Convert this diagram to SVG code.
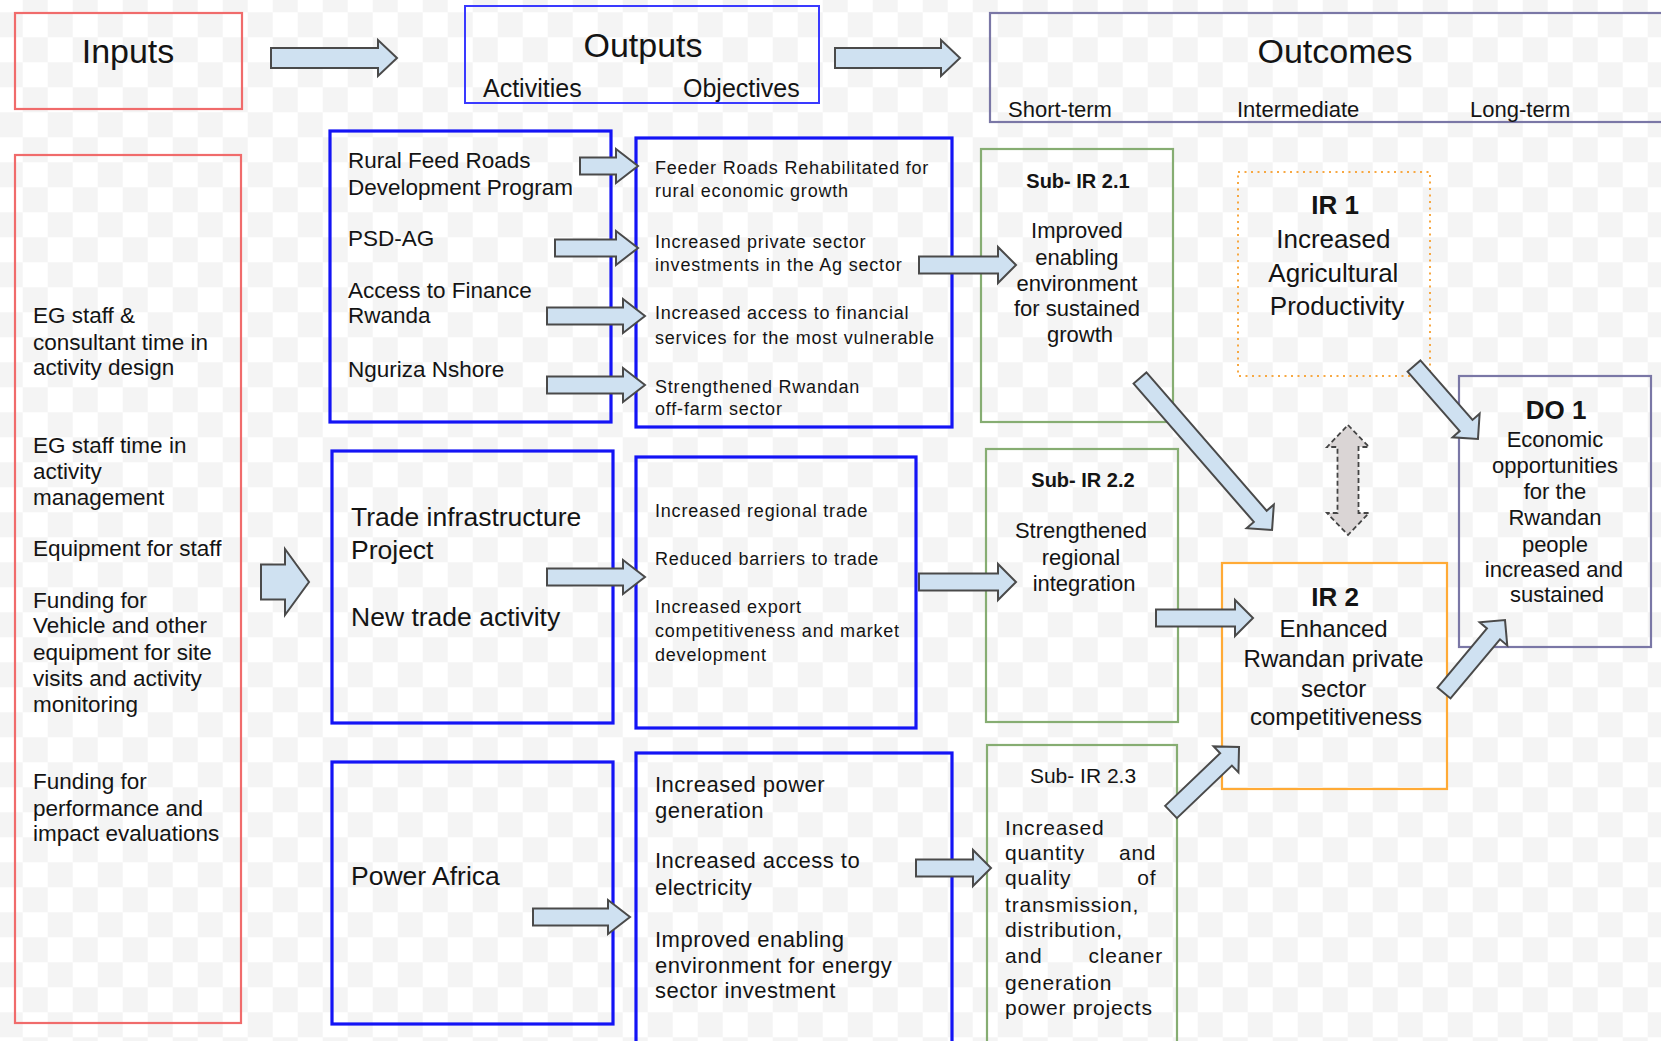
<svg xmlns="http://www.w3.org/2000/svg" width="1661" height="1041" viewBox="0 0 1661 1041">
  <defs>
    <pattern id="checker" patternUnits="userSpaceOnUse" x="-2.3" y="12.3" width="50" height="50">
      <rect width="50" height="50" fill="#ffffff"/>
      <rect x="0" y="0" width="25" height="25" fill="#f4f4f4"/>
      <rect x="25" y="25" width="25" height="25" fill="#f4f4f4"/>
    </pattern>
    <style>
      text { font-family: "Liberation Sans", Arial, sans-serif; fill: #141414; }
      .box { fill: none; }
      .red { stroke: #f06b6b; stroke-width: 2.2; }
      .blue { stroke: #1414f5; stroke-width: 3.2; }
      .blueThin { stroke: #3a3aff; stroke-width: 2; }
      .purple { stroke: #7a77a6; stroke-width: 2.2; }
      .green { stroke: #86ad72; stroke-width: 2.2; }
      .orange { stroke: #ffaa36; stroke-width: 2.2; }
      .dotted { stroke: #f7a842; stroke-width: 2; stroke-dasharray: 2 4.5; }
      .head { font-size: 34px; text-anchor: middle; }
      .sub { font-size: 25px; }
      .col { font-size: 22px; }
      .inp { font-size: 22.5px; }
      .act { font-size: 22.5px; }
      .actBig { font-size: 26.5px; }
      .obj { font-size: 18px; letter-spacing: 0.8px; }
      .obj3 { font-size: 22px; letter-spacing: 0.5px; }
      .ctr { text-anchor: middle; }
      .bold { font-weight: bold; }
      .s22 { font-size: 22px; }
      .s24 { font-size: 24px; }
      .s26 { font-size: 26px; }
      .just { font-size: 21px; letter-spacing: 0.8px; }
      .end { text-anchor: end; }
      .arrow { fill: #cfe1f1; stroke: #4a4a4a; stroke-width: 2; stroke-linejoin: miter; }
      .dual { fill: #dad5d5; stroke: #444444; stroke-width: 1.8; stroke-dasharray: 5 3; }
    </style>
  </defs>

  <!-- transparent-style checkered backdrop -->
  <rect width="1661" height="1041" fill="url(#checker)"/>

  <!-- column headers -->
  <g id="hdr-inputs">
    <rect class="box red" x="15" y="13" width="227" height="96"/>
    <text class="head" x="128" y="63">Inputs</text>
  </g>
  <g id="hdr-outputs">
    <rect class="box blueThin" x="465" y="6" width="354" height="97"/>
    <text class="head" x="643" y="57">Outputs</text>
    <text class="sub" x="483" y="97">Activities</text>
    <text class="sub" x="683" y="97">Objectives</text>
  </g>
  <g id="hdr-outcomes">
    <rect class="box purple" x="990" y="13" width="690" height="109"/>
    <text class="head" x="1335" y="63">Outcomes</text>
    <text class="col" x="1008" y="117">Short-term</text>
    <text class="col" x="1237" y="117">Intermediate</text>
    <text class="col" x="1470" y="117">Long-term</text>
  </g>

  <!-- inputs list -->
  <g id="inputs">
    <rect class="box red" x="15" y="155" width="226" height="868"/>
    <text class="inp" x="33">
      <tspan x="33" y="323">EG staff &amp;</tspan>
      <tspan x="33" y="350">consultant time in</tspan>
      <tspan x="33" y="375">activity design</tspan>
      <tspan x="33" y="453">EG staff time in</tspan>
      <tspan x="33" y="479">activity</tspan>
      <tspan x="33" y="505">management</tspan>
      <tspan x="33" y="556">Equipment for staff</tspan>
      <tspan x="33" y="608">Funding for</tspan>
      <tspan x="33" y="633">Vehicle and other</tspan>
      <tspan x="33" y="660">equipment for site</tspan>
      <tspan x="33" y="686">visits and activity</tspan>
      <tspan x="33" y="712">monitoring</tspan>
      <tspan x="33" y="789">Funding for</tspan>
      <tspan x="33" y="816">performance and</tspan>
      <tspan x="33" y="841">impact evaluations</tspan>
    </text>
  </g>

  <!-- activities -->
  <g id="act-ag">
    <rect class="box blue" x="330" y="131" width="281" height="291"/>
    <text class="act">
      <tspan x="348" y="168">Rural Feed Roads</tspan>
      <tspan x="348" y="195">Development Program</tspan>
      <tspan x="348" y="246">PSD-AG</tspan>
      <tspan x="348" y="298">Access to Finance</tspan>
      <tspan x="348" y="323">Rwanda</tspan>
      <tspan x="348" y="377">Nguriza Nshore</tspan>
    </text>
  </g>
  <g id="act-trade">
    <rect class="box blue" x="332" y="451" width="281" height="272"/>
    <text class="actBig">
      <tspan x="351" y="526">Trade infrastructure</tspan>
      <tspan x="351" y="559">Project</tspan>
      <tspan x="351" y="626">New trade activity</tspan>
    </text>
  </g>
  <g id="act-power">
    <rect class="box blue" x="332" y="762" width="281" height="262"/>
    <text class="actBig" x="351" y="885">Power Africa</text>
  </g>

  <!-- objectives -->
  <g id="obj-ag">
    <rect class="box blue" x="636" y="138" width="316" height="289"/>
    <text class="obj">
      <tspan x="655" y="174">Feeder Roads Rehabilitated for</tspan>
      <tspan x="655" y="197">rural economic growth</tspan>
      <tspan x="655" y="248">Increased private sector</tspan>
      <tspan x="655" y="271">investments in the Ag sector</tspan>
      <tspan x="655" y="319">Increased access to financial</tspan>
      <tspan x="655" y="344">services for the most vulnerable</tspan>
      <tspan x="655" y="393">Strengthened Rwandan</tspan>
      <tspan x="655" y="415">off-farm sector</tspan>
    </text>
  </g>
  <g id="obj-trade">
    <rect class="box blue" x="636" y="457" width="280" height="271"/>
    <text class="obj">
      <tspan x="655" y="517">Increased regional trade</tspan>
      <tspan x="655" y="565">Reduced barriers to trade</tspan>
      <tspan x="655" y="613">Increased export</tspan>
      <tspan x="655" y="637">competitiveness and market</tspan>
      <tspan x="655" y="661">development</tspan>
    </text>
  </g>
  <g id="obj-power">
    <rect class="box blue" x="636" y="753" width="316" height="300"/>
    <text class="obj3">
      <tspan x="655" y="792">Increased power</tspan>
      <tspan x="655" y="818">generation</tspan>
      <tspan x="655" y="868">Increased access to</tspan>
      <tspan x="655" y="895">electricity</tspan>
      <tspan x="655" y="947">Improved enabling</tspan>
      <tspan x="655" y="973">environment for energy</tspan>
      <tspan x="655" y="998">sector investment</tspan>
    </text>
  </g>

  <!-- short-term outcomes -->
  <g id="sub-ir-2-1">
    <rect class="box green" x="981" y="149" width="192" height="273"/>
    <text class="ctr bold" style="font-size:20px" x="1078" y="188">Sub- IR 2.1</text>
    <text class="ctr s22">
      <tspan x="1080" y="238">Improved</tspan>
      <tspan x="1080" y="265">enabling</tspan>
      <tspan x="1080" y="291">environment</tspan>
      <tspan x="1080" y="316">for sustained</tspan>
      <tspan x="1080" y="342">growth</tspan>
    </text>
  </g>
  <g id="sub-ir-2-2">
    <rect class="box green" x="986" y="449" width="192" height="273"/>
    <text class="ctr bold" style="font-size:20px" x="1083" y="487">Sub- IR 2.2</text>
    <text class="ctr s22">
      <tspan x="1084" y="538">Strengthened</tspan>
      <tspan x="1084" y="565">regional</tspan>
      <tspan x="1084" y="591">integration</tspan>
    </text>
  </g>
  <g id="sub-ir-2-3">
    <rect class="box green" x="987" y="745" width="190" height="310"/>
    <text class="ctr" style="font-size:21px" x="1083" y="783">Sub- IR 2.3</text>
    <text class="just">
      <tspan x="1005" y="835">Increased</tspan>
      <tspan x="1005" y="860">quantity</tspan>
      <tspan x="1005" y="885">quality</tspan>
      <tspan x="1005" y="912">transmission,</tspan>
      <tspan x="1005" y="937">distribution,</tspan>
      <tspan x="1005" y="963">and</tspan>
      <tspan x="1005" y="990">generation</tspan>
      <tspan x="1005" y="1015">power projects</tspan>
    </text>
    <text class="just end">
      <tspan x="1163" y="860">and</tspan>
      <tspan x="1163" y="885">of</tspan>
      <tspan x="1163" y="963">cleaner</tspan>
    </text>
  </g>

  <!-- intermediate results -->
  <g id="ir-1">
    <rect class="box dotted" x="1238" y="172" width="192" height="204"/>
    <text class="ctr bold s26" x="1335" y="214">IR 1</text>
    <text class="ctr s26">
      <tspan x="1337" y="248">Increased</tspan>
      <tspan x="1337" y="282">Agricultural</tspan>
      <tspan x="1337" y="315">Productivity</tspan>
    </text>
  </g>
  <g id="ir-2">
    <rect class="box orange" x="1222" y="563" width="225" height="226"/>
    <text class="ctr bold s26" x="1335" y="606">IR 2</text>
    <text class="ctr s24">
      <tspan x="1337" y="637">Enhanced</tspan>
      <tspan x="1337" y="667">Rwandan private</tspan>
      <tspan x="1337" y="697">sector</tspan>
      <tspan x="1336" y="725">competitiveness</tspan>
    </text>
  </g>

  <!-- development objective -->
  <g id="do-1">
    <rect class="box purple" x="1459" y="376" width="192" height="271"/>
    <text class="ctr bold s26" x="1556" y="419">DO 1</text>
    <text class="ctr s22">
      <tspan x="1558" y="447">Economic</tspan>
      <tspan x="1558" y="473">opportunities</tspan>
      <tspan x="1558" y="499">for the</tspan>
      <tspan x="1558" y="525">Rwandan</tspan>
      <tspan x="1558" y="552">people</tspan>
      <tspan x="1557" y="577">increased and</tspan>
      <tspan x="1557" y="602">sustained</tspan>
    </text>
  </g>

  <!-- block arrows -->
  <g id="connectors">
    <polygon class="arrow" points="271,48 378,48 378,40 397,58 378,76 378,68 271,68"/>
    <polygon class="arrow" points="835,48 941,48 941,40 960,58 941,76 941,68 835,68"/>
    <polygon class="arrow" points="261,564.5 285,564.5 285,549 309,582 285,615 285,599.5 261,599.5"/>

    <polygon class="arrow" points="580,157.5 616,157.5 616,149 638,166 616,183 616,174.5 580,174.5"/>
    <polygon class="arrow" points="555,239.5 616,239.5 616,231 638,248 616,265 616,256.5 555,256.5"/>
    <polygon class="arrow" points="547,307.5 623,307.5 623,299 645,316 623,333 623,324.5 547,324.5"/>
    <polygon class="arrow" points="547,376.5 623,376.5 623,368 645,385 623,402 623,393.5 547,393.5"/>
    <polygon class="arrow" points="547,568.5 623,568.5 623,560 645,577 623,594 623,585.5 547,585.5"/>
    <polygon class="arrow" points="533,908.5 608,908.5 608,900 630,917 608,934 608,925.5 533,925.5"/>

    <polygon class="arrow" points="919,256.5 998,256.5 998,247 1016,265 998,283 998,273.5 919,273.5"/>
    <polygon class="arrow" points="919,573.5 998,573.5 998,564 1016,582 998,600 998,590.5 919,590.5"/>
    <polygon class="arrow" points="916,859.5 973,859.5 973,850 991,868 973,886 973,876.5 916,876.5"/>
    <polygon class="arrow" points="1156,609.5 1235,609.5 1235,600 1253,618 1235,636 1235,626.5 1156,626.5"/>

    <polygon class="arrow" transform="translate(1140,378) rotate(49)" points="0,-8.5 183.3,-8.5 183.3,-18 201.3,0 183.3,18 183.3,8.5 0,8.5"/>
    <polygon class="arrow" transform="translate(1414,366) rotate(48.8)" points="0,-8.5 79.1,-8.5 79.1,-18 97.1,0 79.1,18 79.1,8.5 0,8.5"/>
    <polygon class="arrow" transform="translate(1444,693) rotate(-50.1)" points="0,-8.5 77.1,-8.5 77.1,-18 95.1,0 77.1,18 77.1,8.5 0,8.5"/>
    <polygon class="arrow" transform="translate(1171,812) rotate(-43.7)" points="0,-8.5 76.1,-8.5 76.1,-18 94.1,0 76.1,18 76.1,8.5 0,8.5"/>

    <polygon class="dual" points="1348,425 1369,447 1358.5,447 1358.5,513 1369,513 1348,535 1327,513 1337.5,513 1337.5,447 1327,447"/>
  </g>
</svg>
